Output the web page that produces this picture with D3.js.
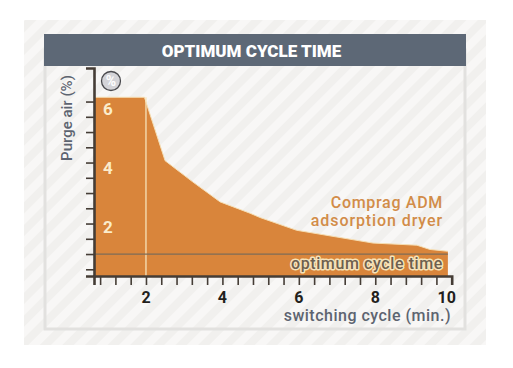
<!DOCTYPE html>
<html>
<head>
<meta charset="utf-8">
<script src="https://cdn.jsdelivr.net/npm/d3@7"></script>
<style>
  html, body { margin: 0; padding: 0; background: #fff; }
  svg { display: block; }
  text { font-family: Roboto, sans-serif; }
</style>
</head>
<body>
<div id="chart"></div>
<script>
// values
const cycleMinutes = [0.64, 1.96, 2.5, 3.23, 3.94, 4.72, 4.98, 5.94, 7.94, 9.09, 9.43, 9.9];
const purgeAir = [6.14, 6.14, 4.06, 3.36, 2.71, 2.34, 2.2, 1.78, 1.36, 1.29, 1.15, 1.09];
const xTicks = [0.8, 1.2, 1.6, 2, 2.4, 2.8, 3.2, 3.6, 4, 4.4, 4.8, 5.2, 5.6, 6, 6.4, 6.8, 7.2, 7.6, 8, 8.4, 8.8, 9.2, 9.6, 10];
const yTicks = [0.5, 1, 1.5, 2, 2.5, 3, 3.5, 4, 4.5, 5, 5.5, 6];
const xLabels = [2, 4, 6, 8, 10];
const yLabels = [2, 4, 6];
const optimumCycle = 2;
const optimumLevel = 1;

const width = 513, height = 368;
const margin = {left: 94, right: 451.7, bottom: 276, top: 68};

const svg = d3.select("#chart").append("svg")
  .attr("width", width)
  .attr("height", height);

// diagonal stripes
const pattern = svg.append("defs").append("pattern")
  .attr("id", "stripes")
  .attr("width", 16)
  .attr("height", 16)
  .attr("patternUnits", "userSpaceOnUse")
  .attr("patternTransform", "rotate(45)");
pattern.append("rect").attr("width", 16).attr("height", 16).attr("fill", "#f8f7f6");
pattern.append("rect").attr("width", 8).attr("height", 16).attr("fill", "#f1f0ee");

svg.append("rect")
  .attr("x", 24).attr("y", 20)
  .attr("width", 462).attr("height", 325)
  .attr("fill", "url(#stripes)");

// frame
svg.append("rect")
  .attr("x", 45).attr("y", 50)
  .attr("width", 420).attr("height", 279)
  .attr("fill", "none")
  .attr("stroke", "#e2e1df")
  .attr("stroke-width", 3);

// title bar
svg.append("rect")
  .attr("x", 44).attr("y", 34)
  .attr("width", 422).attr("height", 32)
  .attr("fill", "#5d6876");

svg.append("text")
  .attr("x", 251.5).attr("y", 57)
  .attr("text-anchor", "middle")
  .attr("font-size", 17)
  .attr("font-weight", 900)
  .attr("fill", "#fff")
  .text("OPTIMUM CYCLE TIME");

// scales
const xScale = d3.scaleLinear().domain([0.64, 10]).range([margin.left, margin.right]);
const yScale = d3.scaleLinear().domain([0.28, 7.1]).range([margin.bottom, margin.top]);
// the value labels are spaced a little tighter than the ticks
const yLabelScale = d3.scaleLinear().domain([2, 6]).range([233, 115]);

// area
const area = d3.area()
  .x(i => xScale(cycleMinutes[i]))
  .y0(yScale(0.28))
  .y1(i => yScale(purgeAir[i]));

const line = d3.line()
  .x(i => xScale(cycleMinutes[i]))
  .y(i => yScale(purgeAir[i]));

svg.append("path")
  .attr("d", area(d3.range(cycleMinutes.length)))
  .attr("fill", "#d9853b");

svg.append("path")
  .attr("d", line(d3.range(cycleMinutes.length)))
  .attr("fill", "none")
  .attr("stroke", "#f6dfb4")
  .attr("stroke-width", 1);

// optimum markers
svg.append("line")
  .attr("x1", xScale(optimumCycle)).attr("x2", xScale(optimumCycle))
  .attr("y1", yScale(6.14)).attr("y2", margin.bottom)
  .attr("stroke", "#f6e3ba")
  .attr("stroke-width", 1.3);

svg.append("line")
  .attr("x1", margin.left).attr("x2", xScale(9.9))
  .attr("y1", yScale(optimumLevel)).attr("y2", yScale(optimumLevel))
  .attr("stroke", "#7d6c58")
  .attr("stroke-width", 1.2);

// axes
const xAxis = svg.append("g")
  .attr("transform", `translate(0,${margin.bottom})`)
  .call(d3.axisBottom(xScale).tickValues(xTicks).tickSize(9).tickFormat(""));

const yAxis = svg.append("g")
  .attr("transform", `translate(${margin.left},0)`)
  .call(d3.axisLeft(yScale).tickValues(yTicks).tickSize(8).tickFormat(""));

[xAxis, yAxis].forEach(function(g) {
  g.selectAll("path,line")
    .attr("stroke", "#453d36")
    .attr("stroke-width", 1.6);
});
xAxis.select("path").attr("stroke-width", 2.6);
yAxis.select("path").attr("stroke-width", 2.6);

// x labels
svg.selectAll(".xlabel")
  .data(xLabels)
  .enter()
  .append("text")
    .attr("class", "xlabel")
    .attr("x", d => xScale(d) + (d === 10 ? -5 : 0))
    .attr("y", 303)
    .attr("text-anchor", "middle")
    .attr("font-size", 16)
    .attr("font-weight", 700)
    .attr("fill", "#231f1c")
    .text(d => d);

// y labels sit inside the area, just under their tick
svg.selectAll(".ylabel")
  .data(yLabels)
  .enter()
  .append("text")
    .attr("class", "ylabel")
    .attr("x", 108)
    .attr("y", d => yLabelScale(d))
    .attr("text-anchor", "middle")
    .attr("font-size", 17)
    .attr("font-weight", 700)
    .attr("fill", "#fbeccb")
    .text(d => d);

// axis titles
svg.append("text")
  .attr("transform", "translate(72,118) rotate(-90)")
  .attr("text-anchor", "middle")
  .attr("font-size", 15)
  .attr("font-weight", 500)
  .attr("fill", "#5d6470")
  .text("Purge air (%)");

svg.append("text")
  .attr("x", 451).attr("y", 321)
  .attr("text-anchor", "end")
  .attr("font-size", 16)
  .attr("font-weight", 500)
  .attr("letter-spacing", 0.5)
  .attr("fill", "#5d6470")
  .text("switching cycle (min.)");

// annotations
svg.append("text")
  .attr("x", 443).attr("y", 208)
  .attr("text-anchor", "end")
  .attr("font-size", 16)
  .attr("font-weight", 500)
  .attr("letter-spacing", 0.7)
  .attr("fill", "#d28c48")
  .text("Comprag ADM");

svg.append("text")
  .attr("x", 443).attr("y", 226)
  .attr("text-anchor", "end")
  .attr("font-size", 16)
  .attr("font-weight", 500)
  .attr("letter-spacing", 0.9)
  .attr("fill", "#d28c48")
  .text("adsorption dryer");

svg.append("text")
  .attr("x", 443).attr("y", 269)
  .attr("text-anchor", "end")
  .attr("font-size", 16)
  .attr("font-weight", 500)
  .attr("letter-spacing", 0.6)
  .attr("fill", "#6e5f4e")
  .attr("stroke", "#f6e3ba")
  .attr("stroke-width", 3)
  .attr("stroke-linejoin", "round")
  .attr("paint-order", "stroke")
  .text("optimum cycle time");

// percent badge
const badge = svg.append("g").attr("transform", "translate(111,81)");
badge.append("circle")
  .attr("r", 9.5)
  .attr("fill", "#d4d4d8")
  .attr("stroke", "#4a4a4e")
  .attr("stroke-width", 1.3);
badge.append("text")
  .attr("y", 5)
  .attr("text-anchor", "middle")
  .attr("font-size", 14)
  .attr("font-weight", 700)
  .attr("fill", "#fff")
  .text("%");
</script>
</body>
</html>
